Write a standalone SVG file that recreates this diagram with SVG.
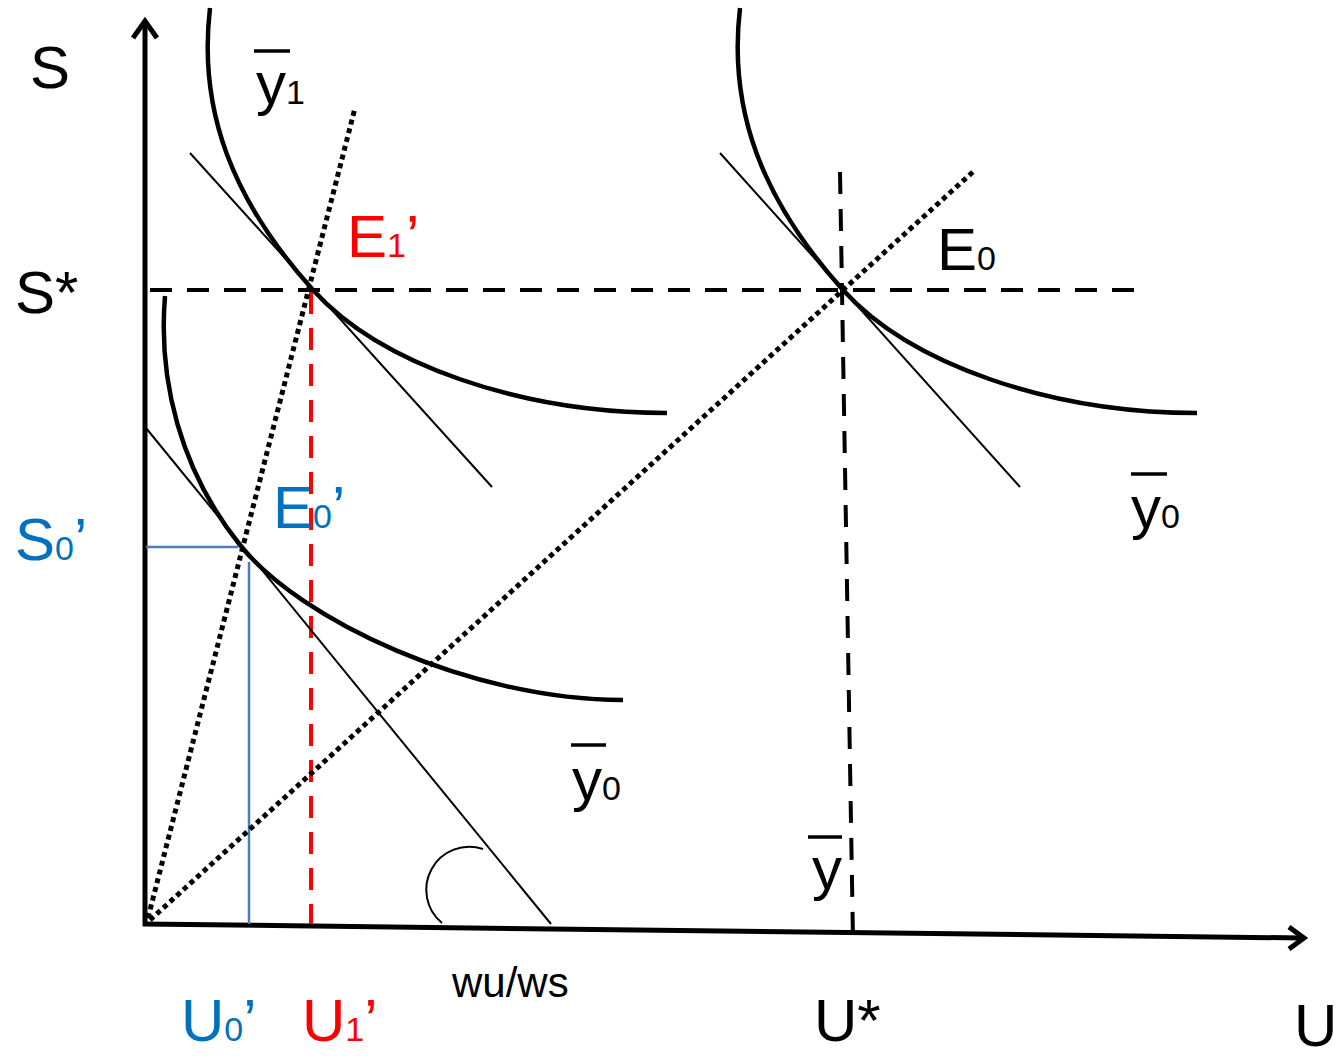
<svg xmlns="http://www.w3.org/2000/svg" width="1340" height="1061" viewBox="0 0 1340 1061">
<style>
text{font-family:"Liberation Sans",Arial,sans-serif;font-size:60px;fill:#000}
.sub{font-size:34px}
.blue{fill:#0070C0}
.red{fill:#FF0000}
.curve{fill:none;stroke:#000;stroke-width:4.5}
.thin{fill:none;stroke:#000;stroke-width:2}
.dot{fill:none;stroke:#000;stroke-width:5;stroke-dasharray:5 4}
.dash{fill:none;stroke:#000;stroke-width:4;stroke-dasharray:22 15}
.bar{stroke:#000;stroke-width:3.5}
</style>
<g id="axes">
<line x1="145" y1="926" x2="145" y2="22" stroke="#000" stroke-width="5"/>
<polyline points="133,38 145,21 157,38" fill="none" stroke="#000" stroke-width="5" stroke-linejoin="miter"/>
<line x1="143" y1="924" x2="1302" y2="938" stroke="#000" stroke-width="5"/>
<polyline points="1289,927 1304,938 1289,949" fill="none" stroke="#000" stroke-width="5"/>
</g>
<g id="connectors">
<line class="dash" x1="150" y1="290" x2="1140" y2="290"/>
<line class="dash" x1="840" y1="172" x2="853" y2="940"/>
<line x1="311" y1="292" x2="311" y2="924" fill="none" stroke="#FF0000" stroke-width="4" stroke-dasharray="22 14"/>
<line x1="146" y1="547" x2="238" y2="547" stroke="#4A7EBB" stroke-width="2.5"/>
<line x1="249" y1="562" x2="249" y2="924" stroke="#4A7EBB" stroke-width="2.5"/>
<line class="dot" x1="148" y1="918" x2="355" y2="108"/>
<line class="dot" x1="150" y1="920" x2="975" y2="170"/>
<line class="thin" x1="190" y1="153" x2="492" y2="487"/>
<line class="thin" x1="720" y1="153" x2="1020" y2="487"/>
<line class="thin" x1="146" y1="428" x2="551" y2="924"/>
<path class="thin" d="M483,849 A43,43 0 0 0 442,923"/>
</g>
<g id="curve-y1">
<path class="curve" d="M210,8 C198,110 232,200 313,290 C380,364 520,413 667,413"/>
</g>
<g id="curve-y0-right">
<path class="curve" d="M740,8 C728,110 762,200 843,290 C910,364 1050,413 1197,413"/>
</g>
<g id="curve-y0-low">
<path class="curve" d="M165,296 C158,380 180,470 240,545 C300,620 470,700 623,700"/>
</g>
<g id="labels">
<text x="30" y="88">S</text>
<text x="15" y="313">S*</text>
<text x="15" y="560" class="blue">S<tspan class="sub">0</tspan>’</text>
<g id="label-y1"><line class="bar" x1="254" y1="51" x2="290" y2="51"/><text x="256" y="104">y<tspan class="sub">1</tspan></text></g>
<text x="347" y="257" class="red">E<tspan class="sub">1</tspan>’</text>
<text x="937" y="270">E<tspan class="sub">0</tspan></text>
<text x="273" y="528" class="blue">E<tspan class="sub">0</tspan>’</text>
<g id="label-y0-right"><line class="bar" x1="1131" y1="474" x2="1167" y2="474"/><text x="1131" y="528">y<tspan class="sub">0</tspan></text></g>
<g id="label-y0-low"><line class="bar" x1="571" y1="745" x2="606" y2="745"/><text x="572" y="800">y<tspan class="sub">0</tspan></text></g>
<g id="label-y"><line class="bar" x1="808" y1="837" x2="842" y2="837"/><text x="812" y="889">y</text></g>
<text x="452" y="997" style="font-size:42px">wu/ws</text>
<text x="181" y="1041" class="blue">U<tspan class="sub">0</tspan>’</text>
<text x="302" y="1041" class="red">U<tspan class="sub">1</tspan>’</text>
<text x="814" y="1041">U*</text>
<text x="1294" y="1046">U</text>
</g>
</svg>
